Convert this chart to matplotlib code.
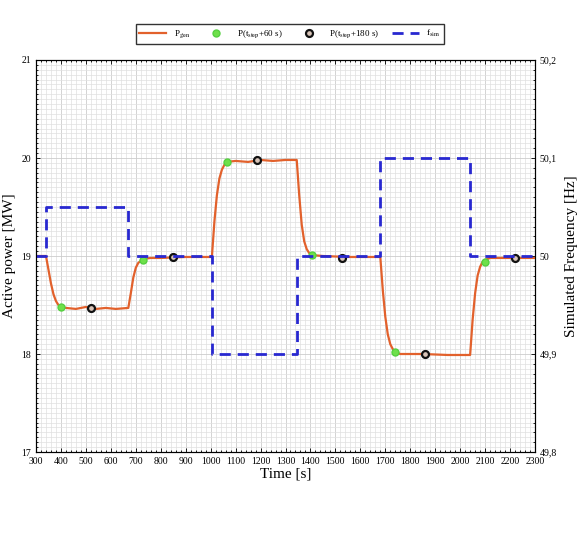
import matplotlib
matplotlib.use("Agg")
import matplotlib.pyplot as plt
from matplotlib.ticker import MultipleLocator, FixedLocator

plt.rcParams['font.family'] = ['Liberation Serif', 'DejaVu Serif']
plt.rcParams['mathtext.fontset'] = 'stix'

# generated power
t_p = [300, 340, 350, 360, 370, 380, 390, 400, 420, 460, 500, 540, 580, 620, 670,
       680, 690, 700, 710, 720, 730, 760, 800, 900, 1005,
       1015, 1025, 1035, 1045, 1055, 1065, 1100, 1150, 1200, 1250, 1300, 1345,
       1355, 1365, 1375, 1385, 1395, 1405, 1450, 1550, 1680,
       1690, 1700, 1710, 1720, 1730, 1740, 1760, 1850, 1950, 2040,
       2050, 2060, 2070, 2080, 2090, 2100, 2120, 2200, 2300]
p_gen = [19.0, 19.0, 18.86, 18.72, 18.61, 18.54, 18.50, 18.48, 18.47, 18.46, 18.48, 18.46, 18.47, 18.46, 18.47,
         18.62, 18.78, 18.88, 18.93, 18.95, 18.97, 18.98, 18.98, 18.99, 18.99,
         19.35, 19.62, 19.79, 19.88, 19.93, 19.96, 19.97, 19.96, 19.98, 19.97, 19.98, 19.98,
         19.62, 19.32, 19.15, 19.07, 19.03, 19.01, 19.0, 18.99, 18.99,
         18.65, 18.38, 18.20, 18.10, 18.05, 18.02, 18.0, 18.0, 17.99, 17.99,
         18.35, 18.62, 18.80, 18.89, 18.94, 18.96, 18.98, 18.98, 18.98]

# markers 60 s and 180 s after each step
t_60 = [400, 730, 1065, 1405, 1740, 2100]
p_60 = [18.48, 18.96, 19.96, 19.01, 18.02, 18.94]
t_180 = [520, 850, 1185, 1525, 1860, 2220]
p_180 = [18.47, 18.99, 19.98, 18.98, 18.0, 18.98]

# simulated frequency steps
t_f = [300, 340, 670, 1005, 1345, 1680, 2040, 2300]
f_sim = [50.0, 50.05, 50.0, 49.9, 50.0, 50.1, 50.0, 50.0]

x_ticks = list(range(300, 2301, 100))
y_ticks = [17, 18, 19, 20, 21]
f_ticks = [49.8, 49.9, 50.0, 50.1, 50.2]
f_labels = ['49,8', '49,9', '50', '50,1', '50,2']

fig = plt.figure(figsize=(5.83, 5.40), dpi=100)
ax = fig.add_axes([36/583, 1-452/540, (535-36)/583, (452-60)/540])
ax2 = ax.twinx()

ax.plot(t_p, p_gen, color='#E2612C', lw=1.6, label='P$_{\\rm gen}$', zorder=3)
ax.plot(t_60, p_60, 'o', ms=5, mfc='#6EE04A', mec='#55D040', mew=1, ls='none',
        label='P(t$_{\\rm step}$+60 s)', zorder=4)
ax.plot(t_180, p_180, 'o', ms=5, mfc='#D8C4B8', mec='#111111', mew=1.6, ls='none',
        label='P(t$_{\\rm step}$+180 s)', zorder=4)
ax2.plot(t_f, f_sim, drawstyle='steps-post', color='#2828D0', lw=2, ls=(0, (4, 2.5)),
         label='f$_{\\rm sim}$', zorder=2)

ax.set_xlim(300, 2300)
ax.set_ylim(17, 21)
ax2.set_ylim(49.8, 50.2)
ax.set_xticks(x_ticks)
ax.set_yticks(y_ticks)
ax2.yaxis.set_major_locator(FixedLocator(f_ticks))
ax2.set_yticklabels(f_labels)
ax.xaxis.set_minor_locator(MultipleLocator(20))
ax.yaxis.set_minor_locator(MultipleLocator(0.05))
ax2.yaxis.set_minor_locator(MultipleLocator(0.01))

ax.grid(which='major', color='#CCCCCC', lw=0.6)
ax.grid(which='minor', color='#E0E0E0', lw=0.5)
ax.set_axisbelow(True)

for a in (ax, ax2):
    a.tick_params(which='both', direction='in', labelsize=7, length=3, width=0.6)
    a.tick_params(which='minor', length=1.5)
ax.tick_params(top=True, which='both')

ax.set_xlabel('Time [s]', fontsize=11, labelpad=1)
ax.set_ylabel('Active power [MW]', fontsize=11, labelpad=4)
ax2.set_ylabel('Simulated Frequency [Hz]', fontsize=11, labelpad=6)

h1, l1 = ax.get_legend_handles_labels()
h2, l2 = ax2.get_legend_handles_labels()
fig.legend(h1 + h2, l1 + l2, loc='center', bbox_to_anchor=(290/583, 1-34/540), ncol=4,
           fontsize=6.5, frameon=True, fancybox=False, edgecolor='black',
           handlelength=3, columnspacing=1.4, borderpad=0.4)

fig.savefig('out.png', dpi=100)
